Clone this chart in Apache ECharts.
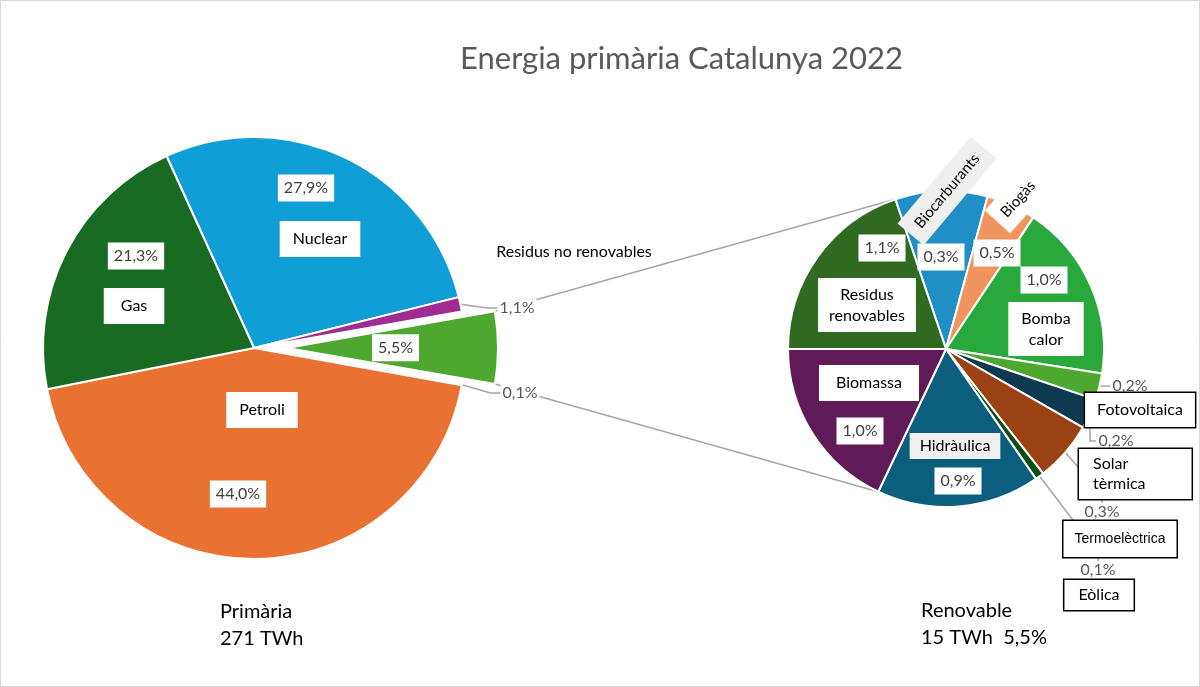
<!DOCTYPE html>
<html><head><meta charset="utf-8">
<script src="https://cdn.jsdelivr.net/npm/echarts@6/dist/echarts.min.js"></script>
<style>html,body{margin:0;padding:0;background:#fff}#c{width:1200px;height:687px}</style>
</head><body><div id="c"></div>
<script>
// ---------- DATA ----------
// Left pie: primary energy shares (% of 271 TWh)
const primNames  = ['Nuclear', 'Residus no renovables', 'Renovable', 'Altres', 'Petroli', 'Gas'];
const primValues = [27.9, 1.1, 5.5, 0.1, 44.0, 21.3];
// Right pie: renewable breakdown (% of primary energy, slice sizes as drawn)
const renNames  = ['Biocarburants', 'Biogàs', 'Bomba calor', 'Fotovoltaica', 'Solar tèrmica',
                   'Termoelèctrica', 'Eòlica', 'Hidràulica', 'Biomassa', 'Residus renovables'];
const renValues = [0.52, 0.28, 1.0, 0.15, 0.17, 0.34, 0.05, 0.92, 0.99, 1.09];
const renLabels = ['0,3%', '0,5%', '1,0%', '0,2%', '0,2%', '0,3%', '0,1%', '0,9%', '1,0%', '1,1%'];
const titleText = 'Energia primària Catalunya 2022';
const primCaption = ['Primària', '271 TWh'];
const renCaption  = ['Renovable', '15 TWh  5,5%'];

// ---------- STYLE / LAYOUT ----------
const primColors = ['#0f9ed5', '#a02b93', '#4ea72e', '#ffffff', '#e97132', '#196b24'];
const renColors  = ['#1f8fc6', '#f0955f', '#29a93b', '#4ea72e', '#0d3a4f', '#9a4213',
                    '#0f4d17', '#0c5e7f', '#601a57', '#306a21'];
const FONT = 'Lato';
const LC = [254, 348], LR = 211, LSTART = 114.5, EXPLODE = 33;
const RC = [946, 349], RR = 158, RSTART = 108.7;

const primValPos  = {0:[306,188], 1:[517,308], 2:[465,348], 3:[520,393], 4:[238,494], 5:[136,256]};
const primNamePos = {0:[320,239], 1:[574,252], 4:[262,410], 5:[134,306]};
const renValPos  = [[941,257],[997,253],[1044,280],[1130,386],[1116,441],[1102,512],[1098,570],[958,481],[860,431],[882,248]];
const renNamePos = [[947,191],[1018,199],[1046,329],[1140,410],[1079,474,'left'],[1120,539],[1099,595],[955,446],[869,383],[867,305]];
const wrapNames = {'Residus renovables':'Residus\nrenovables', 'Bomba calor':'Bomba\ncalor', 'Solar tèrmica':'Solar\ntèrmica'};

const fmtPct = v => v.toFixed(1).replace('.', ',') + '%';
const lineStyleLeader = {color:'#a6a6a6', width:1.5};

const valBox  = {color:'#404040', fontSize:16, fontFamily:FONT, backgroundColor:'#fff', padding:[6,6,5,6]};
const nameBox = {color:'#000', fontSize:16, fontFamily:FONT, backgroundColor:'#fff', padding:[9,13], lineHeight:18};
const outVal  = {color:'#595959', fontSize:16, fontFamily:FONT, backgroundColor:'#fff', padding:[1,2]};

// ---------- SERIES DATA ----------
const primOutside = new Set([1, 3]);
const primData = primNames.map((n, i) => ({
  name: n, value: primValues[i],
  selected: n === 'Renovable',
  itemStyle: {color: primColors[i]},
  label: Object.assign({show: true, formatter: fmtPct(primValues[i])},
         primOutside.has(i) ? Object.assign({position:'outside'}, outVal) : valBox),
  labelLine: {show: primOutside.has(i), length: 12, length2: 10, lineStyle: lineStyleLeader}
}));
const primNameData = primNames.map((n, i) => ({
  name: n, value: primValues[i],
  itemStyle: {color: 'rgba(0,0,0,0)', borderWidth: 0},
  label: primNamePos[i] ? (i === 1
      ? {show: true, color:'#000', fontSize:16, fontFamily:FONT}
      : Object.assign({show: true}, nameBox, i === 5 ? {padding:[9,17]} : {})) : {show: false}
}));

const renOutside = new Set([3, 4, 5, 6]);
const renData = renNames.map((n, i) => ({
  name: n, value: renValues[i],
  itemStyle: {color: renColors[i]},
  label: Object.assign({show: true, formatter: renLabels[i]},
         renOutside.has(i) ? Object.assign({position:'outside'}, outVal) : valBox),
  labelLine: {show: renOutside.has(i), length: 10, length2: 8, lineStyle: lineStyleLeader}
}));
const renNameData = renNames.map((n, i) => {
  let lab;
  if (i === 0) lab = Object.assign({}, nameBox, {backgroundColor:'#efefef', rotate: 50, padding:[8,11], fontSize:15});
  else if (i === 1) lab = Object.assign({}, nameBox, {rotate: 48, padding:[8,9], fontSize:15});
  else if (renOutside.has(i)) lab = Object.assign({}, nameBox, {borderColor:'#000', borderWidth:1.5,
        padding: i === 4 ? [5,46,5,14] : (i === 5 ? [9,11] : (i === 3 ? [8,12] : [6,14])),
        lineHeight: i === 4 ? 20 : 18,
        fontFamily: i === 5 ? 'Liberation Sans' : FONT, fontSize: i === 5 ? 14 : 16});
  else if (i === 7) lab = Object.assign({}, nameBox, {backgroundColor:'#f0f0f0', padding:[4,10]});
  else if (i === 9) lab = Object.assign({}, nameBox, {padding:[6,11], lineHeight:21});
  else if (i === 2) lab = Object.assign({}, nameBox, {padding:[6,13], lineHeight:21});
  else if (i === 8) lab = Object.assign({}, nameBox, {padding:[9,17]});
  else lab = Object.assign({}, nameBox);
  return {name: n, value: renValues[i], itemStyle: {color:'rgba(0,0,0,0)', borderWidth:0},
          label: Object.assign({show: true, formatter: wrapNames[n] || n}, lab)};
});

function placer(posMap) {
  return function (p) {
    const q = posMap[p.dataIndex];
    if (!q) return {};
    return {x: q[0], y: q[1], align: q[2] || 'center', verticalAlign: 'middle'};
  };
}

// ---------- CONNECTOR LINES (derived from pie geometry) ----------
function pt(c, r, angCW) { const a = angCW * Math.PI / 180; return [c[0] + r * Math.sin(a), c[1] - r * Math.cos(a)]; }
const primTotal = primValues.reduce((a, b) => a + b, 0);
const gi = primNames.indexOf('Renovable');
const gStart = (90 - LSTART) + primValues.slice(0, gi).reduce((a, b) => a + b, 0) / primTotal * 360;
const gEnd = gStart + primValues[gi] / primTotal * 360;
const gCenter = pt(LC, EXPLODE, (gStart + gEnd) / 2);
const renTotal = renValues.reduce((a, b) => a + b, 0);
const rTop = 90 - RSTART;
const hi = renNames.indexOf('Hidràulica');
const rBot = rTop + renValues.slice(0, hi + 1).reduce((a, b) => a + b, 0) / renTotal * 360;
const p1 = pt(gCenter, LR, gStart), p2 = pt(gCenter, LR, gEnd);
const q1 = pt(RC, RR, rTop), q2 = pt(RC, RR, rBot);

const chart = echarts.init(document.getElementById('c'));
const common = {type:'pie', avoidLabelOverlap:false, clockwise:true, emphasis:{disabled:true}, animation:false};
chart.setOption({
  backgroundColor: '#fff',
  title: [
    {text: titleText, left: 455, top: 38, textStyle:{fontFamily:FONT, fontSize:31, fontWeight:'normal', color:'#595959'}},
    {text: primCaption.join('\n'), left: 215, top: 593, textStyle:{fontFamily:FONT, fontSize:20, fontWeight:'normal', color:'#000', lineHeight:27}},
    {text: renCaption.join('\n'), left: 916, top: 592, textStyle:{fontFamily:FONT, fontSize:20, fontWeight:'normal', color:'#000', lineHeight:27}}
  ],
  graphic: [
    {type:'rect', shape:{x:0.5, y:0.5, width:1199, height:686}, style:{fill:'none', stroke:'#d9d9d9', lineWidth:1}, z:0, silent:true},
    {type:'line', shape:{x1:p1[0], y1:p1[1], x2:q1[0], y2:q1[1]}, style:{stroke:'#a6a6a6', lineWidth:1.5}, z:1, silent:true},
    {type:'line', shape:{x1:p2[0], y1:p2[1], x2:q2[0], y2:q2[1]}, style:{stroke:'#a6a6a6', lineWidth:1.5}, z:1, silent:true}
  ],
  series: [
    Object.assign({}, common, {
      name:'Primària', center: LC, radius: LR, startAngle: LSTART,
      selectedMode:'single', selectedOffset: EXPLODE,
      itemStyle:{borderColor:'#fff', borderWidth:2},
      label:{position:'inside'}, labelLayout: placer(primValPos), data: primData, z: 2
    }),
    Object.assign({}, common, {
      name:'PrimàriaNoms', center: LC, radius: LR, startAngle: LSTART, silent:true,
      label:{position:'inside'}, labelLine:{show:false}, labelLayout: placer(primNamePos), data: primNameData, z: 3
    }),
    Object.assign({}, common, {
      name:'Renovable', center: RC, radius: RR, startAngle: RSTART,
      itemStyle:{borderColor:'#fff', borderWidth:2},
      label:{position:'inside'}, labelLayout: placer(renValPos), data: renData, z: 2
    }),
    Object.assign({}, common, {
      name:'RenovableNoms', center: RC, radius: RR, startAngle: RSTART, silent:true,
      label:{position:'inside'}, labelLine:{show:false}, labelLayout: placer(renNamePos), data: renNameData, z: 3
    })
  ]
});
</script></body></html>
